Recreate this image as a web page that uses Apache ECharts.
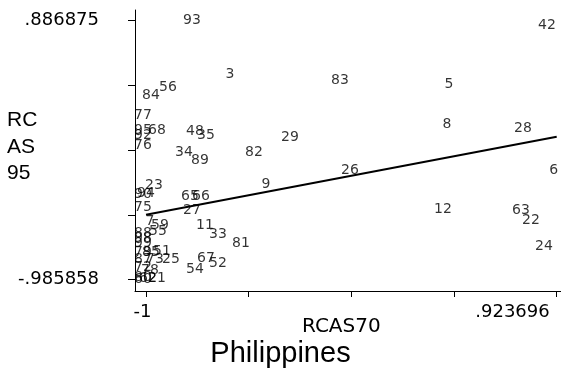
<!DOCTYPE html>
<html>
<head>
<meta charset="utf-8">
<script src="https://cdn.jsdelivr.net/npm/echarts@6/dist/echarts.min.js"></script>
<style>
  html, body { margin: 0; padding: 0; background: #fff; }
  #chart { width: 561px; height: 369px; }
</style>
</head>
<body>
<div id="chart"></div>
<script>
// Product codes and their RCA indices (1970 on x, 1995 on y)
const codes = ['93','42','84','56','3','83','5','77','8','28','95','92','68','48','35','29','76','34','89','82','26','6','23','90','94','65','66','9','27','75','12','63','22','7','59','55','11','33','81','24','88','98','99','79','85','51','87','73','25','67','52','54','72','78','80','60','62','21'];
const rcas70 = [-0.7705, 0.8923, -0.9625, -0.8829, -0.5925, -0.0773, 0.4333, -1, 0.4239, 0.7799, -1, -1, -0.9344, -0.7564, -0.7049, -0.3115, -1, -0.808, -0.733, -0.4801, -0.0304, 0.923696, -0.9485, -1, -0.986, -0.7799, -0.7283, -0.4239, -0.7705, -1, 0.4052, 0.7705, 0.8173, -0.9672, -0.9204, -0.9297, -0.7096, -0.6487, -0.541, 0.8782, -1, -1, -1, -1, -0.9625, -0.911, -1, -0.9438, -0.8689, -0.7049, -0.6487, -0.7564, -1, -0.9672, -1, -1, -0.9766, -0.9344];
const rcas95 = [0.886875, 0.8558, 0.3493, 0.4035, 0.5012, 0.4578, 0.4289, 0.2045, 0.1394, 0.1105, 0.096, 0.0598, 0.096, 0.0888, 0.0598, 0.0454, -0.0125, -0.0632, -0.1211, -0.0632, -0.1934, -0.1934, -0.302, -0.3671, -0.3598, -0.3816, -0.3816, -0.2947, -0.4829, -0.4611, -0.4756, -0.4829, -0.5552, -0.5625, -0.5914, -0.6348, -0.5914, -0.6565, -0.7216, -0.7433, -0.6493, -0.6855, -0.7216, -0.7868, -0.7868, -0.7795, -0.8374, -0.8374, -0.8374, -0.8302, -0.8664, -0.9098, -0.8953, -0.917, -0.9711, -0.985858, -0.9787, -0.9749];

// Fitted line end points
const fitX = [-1, 0.923696];
const fitY = [-0.5176, 0.0468];

// Axis ticks and the two labelled extremes
const xTicks = [-1, -0.519076, -0.038152, 0.442772, 0.923696];
const yTicks = [-0.985858, -0.517675, -0.049491, 0.418692, 0.886875];
const xTickLabels = ['-1', '.923696'];
const yTickLabels = ['-.985858', '.886875'];

const xLabelled = [xTicks[0], xTicks[xTicks.length - 1]];
const yLabelled = [yTicks[0], yTicks[yTicks.length - 1]];

function labelFor(values, texts) {
  return function (v) {
    for (let i = 0; i < values.length; i++) {
      if (Math.abs(v - values[i]) < 1e-6) return texts[i];
    }
    return '';
  };
}

const points = codes.map((c, i) => [rcas70[i], rcas95[i], c]);
const fitData = fitX.map((x, i) => [x, fitY[i]]);

const chart = echarts.init(document.getElementById('chart'), null, { renderer: 'canvas' });
chart.setOption({
  animation: false,
  backgroundColor: '#ffffff',
  title: [
    {
      text: 'RC\nAS\n95',
      left: 7, top: 107, padding: 0,
      textStyle: { fontFamily: 'Liberation Sans', fontSize: 21, fontWeight: 'normal', color: '#000', lineHeight: 26.5 }
    },
    {
      text: 'RCAS70',
      left: 302, top: 317, padding: 0,
      textStyle: { fontFamily: 'DejaVu Sans', fontSize: 20, fontWeight: 'normal', color: '#000' }
    },
    {
      text: 'Philippines',
      left: 'center', top: 339, padding: 0,
      textStyle: { fontFamily: 'Liberation Sans', fontSize: 29, fontWeight: 'normal', color: '#000' }
    }
  ],
  grid: { left: 135, right: 0, top: 10, bottom: 78, containLabel: false, outerBoundsMode: 'none' },
  xAxis: {
    type: 'value',
    min: -1.0515, max: 0.9438,
    axisLine: { show: true, onZero: false, lineStyle: { color: '#000', width: 1 } },
    axisTick: { show: true, length: 6, customValues: xTicks, lineStyle: { color: '#000', width: 1 } },
    axisLabel: {
      show: true, customValues: xLabelled, margin: 12,
      formatter: labelFor(xLabelled, xTickLabels),
      alignMinLabel: 'center', alignMaxLabel: 'right',
      fontFamily: 'DejaVu Sans', fontSize: 18, color: '#000',
      padding: [0, 7, 0, 0]
    },
    splitLine: { show: false }
  },
  yAxis: {
    type: 'value',
    min: -1.0691, max: 0.9643,
    axisLine: { show: true, onZero: false, lineStyle: { color: '#000', width: 1 } },
    axisTick: { show: true, length: 7, customValues: yTicks, lineStyle: { color: '#000', width: 1 } },
    axisLabel: {
      show: true, customValues: yLabelled, margin: 36,
      formatter: labelFor(yLabelled, yTickLabels),
      fontFamily: 'DejaVu Sans', fontSize: 18, color: '#000'
    },
    splitLine: { show: false }
  },
  series: [
    {
      type: 'scatter',
      data: points,
      symbolSize: 0,
      itemStyle: { color: 'rgba(0,0,0,0)' },
      label: {
        show: true,
        position: 'inside',
        offset: [-3, 0],
        formatter: p => p.data[2],
        fontFamily: 'DejaVu Sans', fontSize: 14, color: '#000'
      },
      emphasis: { disabled: true },
      z: 2
    },
    {
      type: 'line',
      data: fitData,
      showSymbol: false,
      lineStyle: { color: '#000', width: 2 },
      emphasis: { disabled: true },
      z: 3
    }
  ]
});
</script>
</body>
</html>
